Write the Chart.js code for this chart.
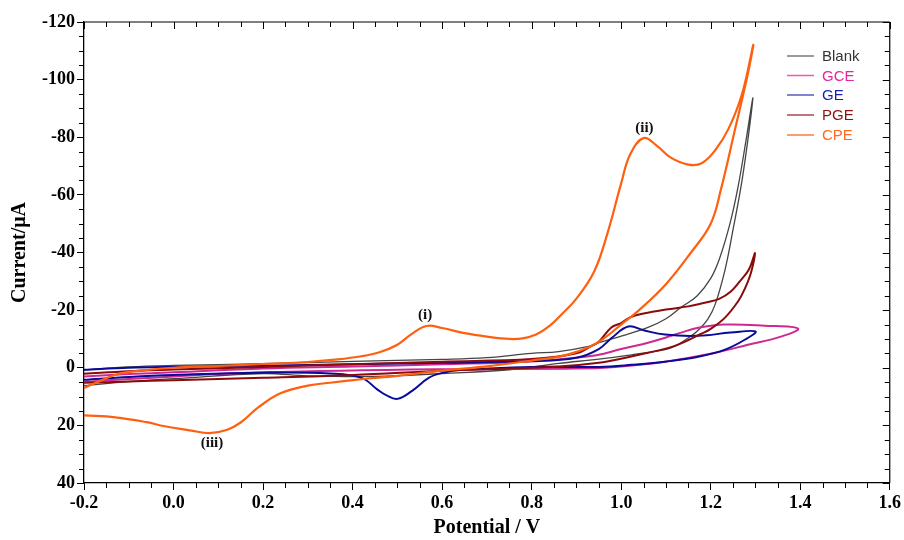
<!DOCTYPE html>
<html>
<head>
<meta charset="utf-8">
<script src="https://cdn.jsdelivr.net/npm/chart.js@4"></script>
<style>
    html, body { margin: 0; padding: 0; background: #fff; }
    #wrap { width: 904px; height: 540px; }
</style>
</head>
<body>
<div id="wrap"><canvas id="cvChart" width="904" height="540"></canvas></div>
<script>
// ---------- DATA ----------
// potential (V) and current (uA) along each scan, forward then return
var blankV = [-0.2, -0.1, 0.0, 0.2, 0.4, 0.6, 0.7, 0.8, 0.86, 0.93, 0.95, 1.0, 1.06, 1.1, 1.134, 1.17, 1.2, 1.22, 1.243, 1.261, 1.279, 1.294,
    1.288, 1.27, 1.25, 1.232, 1.21, 1.194, 1.172, 1.156, 1.12, 1.098, 1.023, 0.95, 0.86, 0.75, 0.6, 0.45, 0.3, 0.2, 0.0, -0.1, -0.2];
var blankI = [0.7, -0.3, -0.8, -1.4, -2.2, -2.9, -3.5, -5.0, -5.6, -7.5, -8.7, -11, -14, -17, -21, -25, -31, -38, -50, -62.7, -79, -93.6,
    -85, -65, -48, -34, -22, -17, -13, -11, -7.5, -6.3, -4.5, -3.0, -1.5, 0.7, 2.0, 3.0, 2.8, 2.0, 3.8, 4.8, 6.2];

var gceV = [-0.2, -0.1, 0.0, 0.2, 0.4, 0.6, 0.8, 0.9, 0.95, 1.0, 1.06, 1.1, 1.134, 1.172, 1.232, 1.32, 1.395,
    1.357, 1.283, 1.21, 1.098, 0.987, 0.9, 0.6, 0.2, 0.0, -0.2];
var gceI = [3.0, 2.2, 1.6, 0.3, -0.4, -1.2, -2.2, -3.5, -4.5, -6.5, -8.7, -10.5, -12.2, -13.9, -15, -14.6, -13.6,
    -10.8, -8.0, -5.2, -2.1, -0.3, 0.3, 0.5, 1.6, 3.0, 4.9];

var geV = [-0.2, -0.1, 0.0, 0.2, 0.4, 0.6, 0.8, 0.9, 0.95, 0.98, 1.016, 1.05, 1.098, 1.172, 1.245, 1.3,
    1.277, 1.232, 1.172, 1.098, 1.023, 0.95, 0.8, 0.644, 0.6, 0.57, 0.533, 0.5, 0.475, 0.455, 0.42, 0.35, 0.2, 0.0, -0.1, -0.2];
var geI = [0.7, 0.0, -0.3, -0.7, -1.2, -1.7, -2.3, -3.5, -6.5, -10.5, -14.3, -13.0, -11.5, -11.1, -12.2, -12.6,
    -9.8, -6.3, -3.8, -2.1, -1.0, -0.3, -0.3, 0.7, 1.8, 3.5, 8.0, 10.8, 9.5, 7.5, 3.5, 2.0, 1.7, 2.5, 3.2, 4.2];

var pgeV = [-0.2, -0.1, 0.0, 0.2, 0.4, 0.6, 0.8, 0.9, 0.934, 0.95, 0.978, 1.0, 1.02, 1.05, 1.1, 1.15, 1.194, 1.22, 1.245, 1.265, 1.285, 1.299,
    1.29, 1.275, 1.261, 1.232, 1.2, 1.179, 1.12, 1.06, 1.01, 0.95, 0.86, 0.7, 0.6, 0.4, 0.2, 0.0, -0.1, -0.2];
var pgeI = [2.1, 1.2, 0.6, -0.3, -1.2, -2.1, -3.0, -5.0, -7.6, -9.0, -14, -15.5, -17.5, -18.8, -20.2, -21.3, -22.8, -24, -26.5, -30, -34, -39.8,
    -33, -27, -23, -17.4, -13.5, -11.8, -7.6, -5.2, -3.5, -1.7, -0.4, 0.5, 1.0, 2.5, 3.5, 4.3, 4.8, 5.2];

var cpeV = [-0.2, -0.16, -0.12, -0.05, 0.0, 0.1, 0.2, 0.3, 0.36, 0.42, 0.46, 0.5, 0.53, 0.565, 0.6, 0.65, 0.7, 0.75, 0.78, 0.81, 0.84, 0.87, 0.9, 0.94, 0.97, 1.0, 1.02, 1.05, 1.08, 1.11, 1.15, 1.18, 1.21, 1.24, 1.27, 1.295,
    1.283, 1.254, 1.223, 1.2, 1.156, 1.1, 1.04, 1.0, 0.95, 0.9, 0.86, 0.8, 0.7, 0.6, 0.5, 0.42, 0.35, 0.3, 0.24, 0.19, 0.15, 0.12, 0.08, 0.04, -0.02, -0.06, -0.13, -0.2];
var cpeI = [7.0, 4.3, 2.0, 0.6, 0.0, -0.6, -1.3, -2.0, -2.8, -4.0, -5.4, -8.0, -11.5, -14.5, -13.8, -12.0, -10.8, -10.0, -10.2, -11.5, -14.5, -19, -24, -33.5, -47, -64, -74, -79.7, -77, -73, -70.5, -71, -75.5, -83, -95, -112,
    -102, -82.5, -62, -50, -40, -29, -20, -15, -9, -5.5, -3.8, -2.5, -0.5, 1.0, 2.8, 4.0, 5.2, 6.2, 8.8, 13.7, 19, 21.5, 22.7, 21.8, 20.3, 18.9, 17.2, 16.5];

var seriesNames = ["Blank", "GCE", "GE", "PGE", "CPE"];
var seriesColors = ["#454545", "#cc2a92", "#0a0a9a", "#8b0a0a", "#ff6010"];
var legendLineColors = ["#7a7a7a", "#ee5aae", "#5a5abe", "#a84848", "#ff7a40"];
var legendTextColors = ["#333333", "#e0289a", "#1c1cb4", "#8b1010", "#ff6a20"];

var peakLabels = ["(i)", "(ii)", "(iii)"];
var peakV = [0.562, 1.052, 0.086];
var peakI = [-18.1, -83.3, 26.1];

function toPoints(v, i) {
    return v.map(function (x, k) { return { x: x, y: i[k] }; });
}

var serif = "'Liberation Serif', 'Times New Roman', serif";

// ---------- PLUGINS ----------
// frame on top/right, minor ticks, peak labels and legend
var extras = {
    id: 'extras',
    afterDraw: function (chart) {
        var ctx = chart.ctx;
        var a = chart.chartArea;
        var xs = chart.scales.x, ys = chart.scales.y;
        ctx.save();
        ctx.strokeStyle = '#000';
        ctx.lineWidth = 1.2;
        ctx.beginPath();
        ctx.moveTo(a.left, a.top); ctx.lineTo(a.right, a.top);
        ctx.moveTo(a.right, a.top); ctx.lineTo(a.right, a.bottom);
        ctx.stroke();

        ctx.lineWidth = 1;
        ctx.beginPath();
        var k, v, p, len;
        for (k = 0; k <= 36; k++) {
            v = -0.2 + k * 0.05;
            p = Math.round(xs.getPixelForValue(v)) + 0.5;
            len = (k % 4 === 0) ? 7 : 5;
            if (k % 4 !== 0) { ctx.moveTo(p, a.bottom); ctx.lineTo(p, a.bottom + len); }
            ctx.moveTo(p, a.top); ctx.lineTo(p, a.top + len);
        }
        for (k = 0; k <= 32; k++) {
            v = -120 + k * 5;
            p = Math.round(ys.getPixelForValue(v)) + 0.5;
            len = (k % 4 === 0) ? 7 : 5;
            if (k % 4 !== 0) { ctx.moveTo(a.left, p); ctx.lineTo(a.left - len, p); }
            ctx.moveTo(a.right, p); ctx.lineTo(a.right - len, p);
        }
        ctx.stroke();

        // peak labels
        ctx.fillStyle = '#111';
        ctx.font = "bold 15px " + serif;
        ctx.textAlign = 'center';
        ctx.textBaseline = 'middle';
        peakLabels.forEach(function (t, n) {
            ctx.fillText(t, xs.getPixelForValue(peakV[n]), ys.getPixelForValue(peakI[n]));
        });

        // legend
        ctx.font = "15px 'Liberation Sans', Arial, sans-serif";
        ctx.textAlign = 'left';
        var rows = [56, 75.5, 95, 115, 135];
        seriesNames.forEach(function (name, n) {
            ctx.strokeStyle = legendLineColors[n];
            ctx.lineWidth = 1.5;
            ctx.beginPath();
            ctx.moveTo(787, rows[n]); ctx.lineTo(814, rows[n]);
            ctx.stroke();
            ctx.fillStyle = legendTextColors[n];
            ctx.fillText(name, 822, rows[n] + 1);
        });
        ctx.restore();
    }
};

// ---------- CHART ----------
var ctxCv = document.getElementById('cvChart');
var allV = [blankV, gceV, geV, pgeV, cpeV];
var allI = [blankI, gceI, geI, pgeI, cpeI];
var widths = [1.3, 2, 2, 2, 2.2];
var orders = [4, 3, 2, 1, 0];

new Chart(ctxCv, {
    type: 'scatter',
    data: {
        datasets: seriesNames.map(function (name, n) {
            return {
                label: name,
                data: toPoints(allV[n], allI[n]),
                showLine: true,
                borderColor: seriesColors[n],
                backgroundColor: seriesColors[n],
                borderWidth: widths[n],
                pointRadius: 0,
                tension: 0.4,
                order: orders[n]
            };
        })
    },
    options: {
        responsive: false,
        animation: false,
        layout: { padding: { left: 8, right: 14, top: 22, bottom: 0 } },
        plugins: {
            legend: { display: false },
            tooltip: { enabled: false }
        },
        scales: {
            x: {
                type: 'linear',
                min: -0.2,
                max: 1.6,
                ticks: {
                    stepSize: 0.2,
                    color: '#000',
                    padding: 3,
                    font: { family: serif, size: 18, weight: 'bold' },
                    callback: function (v) { return v.toFixed(1); }
                },
                grid: { drawOnChartArea: false, drawTicks: true, tickLength: 7, color: '#000' },
                border: { color: '#000', width: 1.3 },
                title: {
                    display: true,
                    text: 'Potential / V',
                    color: '#000',
                    padding: { top: 0, bottom: 0 },
                    font: { family: serif, size: 20, weight: 'bold' }
                },
                afterFit: function (s) { s.height = 57; }
            },
            y: {
                type: 'linear',
                reverse: true,
                min: -120,
                max: 40,
                ticks: {
                    stepSize: 20,
                    color: '#000',
                    padding: 2,
                    font: { family: serif, size: 18, weight: 'bold' }
                },
                grid: { drawOnChartArea: false, drawTicks: true, tickLength: 7, color: '#000' },
                border: { color: '#000', width: 1.3 },
                title: {
                    display: true,
                    text: 'Current/μA',
                    color: '#000',
                    padding: { top: 0, bottom: 0 },
                    font: { family: serif, size: 20, weight: 'bold' }
                },
                afterFit: function (s) { s.width = 76; }
            }
        }
    },
    plugins: [extras]
});
</script>
</body>
</html>
